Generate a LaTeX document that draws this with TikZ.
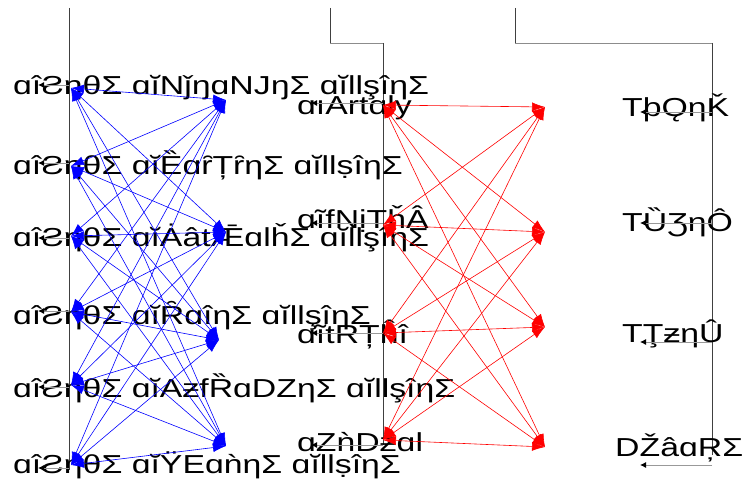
\documentclass[tikz,border=0pt]{standalone}
\usepackage{fontspec}
\setmainfont{Liberation Sans}[FakeStretch=1.3]
\usetikzlibrary{arrows.meta}
\begin{document}
\begin{tikzpicture}[x=1pt,y=-1pt,
  lbl/.style={anchor=west,inner sep=0pt,font=\fontsize{26}{26}\selectfont},
  axisline/.style={draw=black!75,line width=0.9pt},
  bracketline/.style={draw=black!45,line width=0.9pt},
  tick/.style={draw=black!40,line width=0.9pt,-{Latex[length=6pt,width=6pt,color=black]}},
  blueedge/.style={draw=blue,line width=0.6pt,{Latex[length=13pt,width=9pt]}-{Latex[length=13pt,width=9pt]}},
  rededge/.style={draw=red,line width=0.6pt,{Latex[length=13pt,width=9pt]}-{Latex[length=13pt,width=9pt]}}]
\useasboundingbox (0,0) rectangle (742,484);
% axes and brackets
\coordinate (a0t) at (69,8);   \coordinate (a0b) at (69,470);
\coordinate (a1t) at (330,8);  \coordinate (a1c) at (330,43); \coordinate (a1d) at (383,43); \coordinate (a1b) at (383,445);
\coordinate (a2t) at (515,8);  \coordinate (a2c) at (515,43); \coordinate (a2d) at (712,43); \coordinate (a2b) at (712,455);
\draw[axisline] (a0t) -- (a0b);
\draw[axisline] (a1t) -- (a1c);
\draw[bracketline] (a1c) -- (a1d);
\draw[axisline] (a1d) -- (a1b);
\draw[axisline] (a2t) -- (a2c);
\draw[bracketline] (a2c) -- (a2d);
\draw[axisline] (a2d) -- (a2b);
% left labels
\node[lbl] (l1) at (13,88) {ɑîƧηθΣ ɑĭNǰŋɑNJŋΣ ɑĭllşîηΣ};
\node[lbl] (l2) at (13,165) {ɑîƧηθΣ ɑĭȄɑȓȚȓηΣ ɑĭllṣîηΣ};
\node[lbl] (l3) at (13,238) {ɑîƧηθΣ ɑĭȦâtǢɑlȟΣ ɑĭllşîηΣ};
\node[lbl] (l4) at (13,316) {ɑîƧηθΣ ɑĭȒɑîηΣ ɑĭllşîηΣ};
\node[lbl] (l5) at (13,388) {ɑîƧηθΣ ɑĭAƶfȐɑDZηΣ ɑĭllşîηΣ};
\node[lbl] (l6) at (13,465) {ɑîƧηθΣ ɑĭŸEɑǹηΣ ɑĭllṣîηΣ};
% middle labels
\node[lbl] (m1) at (297,108) {ɑıArtɑly};
\node[lbl] (m2) at (297,219) {ɑĩfNịTȟÂ};
\node[lbl] (m3) at (297,334) {ɑĩtRȚĥî};
\node[lbl] (m4) at (297,442) {ɑZǹDƶɑl};
% right labels
\node[lbl] (r1) at (622,108) {TþǪηǨ};
\node[lbl] (r2) at (622,222) {TȔƷηÔ};
\node[lbl] (r3) at (622,334) {TŢƶηÛ};
\node[lbl] (r4) at (615,448) {DŽâɑŖΣ};
% small label arrows
\foreach \i/\y in {1/85,2/163,3/238,4/311,5/387,6/468}{
  \coordinate (lp\i) at (69,\y); \coordinate (lt\i) at (38,\y);
  \draw[tick] (lp\i) -- (lt\i);}
\foreach \i/\y in {1/103,2/223,3/333,4/445}{
  \coordinate (mp\i) at (383,\y); \coordinate (mt\i) at (311,\y);
  \draw[tick] (mp\i) -- (mt\i);}
\foreach \i/\y in {1/112,2/223,3/342,4/465}{
  \coordinate (rp\i) at (712,\y); \coordinate (rt\i) at (640,\y);
  \draw[tick] (rp\i) -- (rt\i);}
% blue network
\foreach \i/\y in {1/88,2/166,3/236,4/312,5/385,6/465}{\coordinate (bl\i) at (71,\y);}
\coordinate (br1) at (226,100);
\coordinate (br2) at (226,232);
\coordinate (br3) at (219,340);
\coordinate (br4) at (226,446);
\foreach \i in {1,...,6}{\foreach \j in {1,...,4}{\draw[blueedge] (bl\i) -- (br\j);}}
% red network
\coordinate (rl1) at (383,105);
\coordinate (rl2) at (383,225);
\coordinate (rl3) at (383,333);
\coordinate (rl4) at (383,440);
\coordinate (rr1) at (545,107);
\coordinate (rr2) at (545,232);
\coordinate (rr3) at (545,327);
\coordinate (rr4) at (545,447);
\foreach \i in {1,...,4}{\foreach \j in {1,...,4}{\draw[rededge] (rl\i) -- (rr\j);}}
\end{tikzpicture}
\end{document}
